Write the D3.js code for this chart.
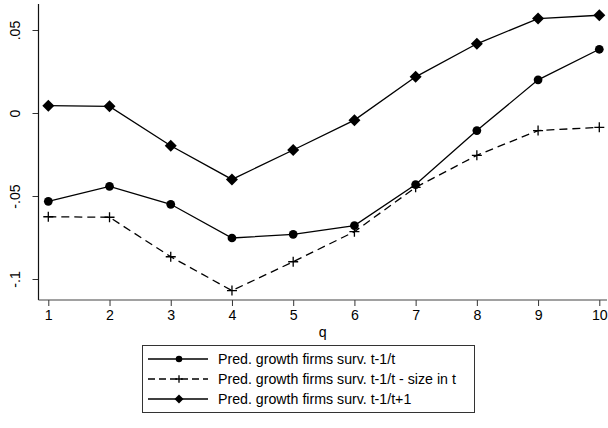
<!DOCTYPE html>
<html>
<head>
<meta charset="utf-8">
<script src="https://cdn.jsdelivr.net/npm/d3@7"></script>
<style>
  html, body { margin: 0; padding: 0; background: #fff; }
  svg { display: block; font-family: "Liberation Sans", Arial, Helvetica, sans-serif; }
</style>
</head>
<body>
<svg id="chart" width="608" height="428"></svg>
<script>
// Quantile groups on the x axis
const quantiles = [1, 2, 3, 4, 5, 6, 7, 8, 9, 10];

// Predicted growth by quantile
const survT = [-0.0532, -0.0442, -0.0550, -0.0753, -0.0731, -0.0678, -0.0431, -0.0106, 0.0200, 0.0384];
const survTSize = [-0.0625, -0.0628, -0.0866, -0.1070, -0.0896, -0.0715, -0.0448, -0.0255, -0.0106, -0.0086];
const survT1 = [0.0044, 0.0040, -0.0197, -0.0400, -0.0223, -0.0043, 0.0218, 0.0417, 0.0569, 0.0589];

// Tick values and labels
const yTicks = [-0.1, -0.05, 0, 0.05];
const yTickLabels = ["-.1", "-.05", "0", ".05"];
const xTicks = quantiles;

const seriesNames = [
  "Pred. growth firms surv. t-1/t",
  "Pred. growth firms surv. t-1/t - size in t",
  "Pred. growth firms surv. t-1/t+1"
];

const svg = d3.select("#chart");

const x = d3.scaleLinear().domain([1, 10]).range([48.3, 599.3]);
const y = d3.scaleLinear().domain([-0.1, 0.05]).range([279, 30]);

const plotTop = 4, plotBottom = 300, plotLeft = 38.5, plotRight = 607;
const fontSize = 14.2;

// Y axis
const yAxis = d3.axisLeft(y)
  .tickValues(yTicks)
  .tickFormat((d, i) => yTickLabels[i])
  .tickSize(6)
  .tickPadding(4);
const gy = svg.append("g").attr("transform", `translate(${plotLeft},0)`).call(yAxis);
gy.select(".domain").remove();
gy.selectAll(".tick line").attr("stroke", "#333");
gy.selectAll(".tick text")
  .attr("font-size", fontSize)
  .attr("fill", "#000")
  .attr("text-anchor", "middle")
  .attr("transform", `translate(-23,0) rotate(-90)`)
  .attr("x", 0)
  .attr("dy", "0.35em");
svg.append("line")
  .attr("x1", plotLeft).attr("x2", plotLeft)
  .attr("y1", plotTop).attr("y2", plotBottom)
  .attr("stroke", "#111").attr("stroke-width", 1.2);

// X axis
const xAxis = d3.axisBottom(x)
  .tickValues(xTicks)
  .tickFormat(d3.format("d"))
  .tickSize(6)
  .tickPadding(4);
const gx = svg.append("g").attr("transform", `translate(0,${plotBottom})`).call(xAxis);
gx.select(".domain").remove();
gx.selectAll(".tick line").attr("stroke", "#333");
gx.selectAll(".tick text").attr("font-size", fontSize).attr("fill", "#000");
svg.append("line")
  .attr("x1", plotLeft).attr("x2", plotRight)
  .attr("y1", plotBottom).attr("y2", plotBottom)
  .attr("stroke", "#444").attr("stroke-width", 1.2);

// X axis title
svg.append("text")
  .attr("x", (x(1) + x(10)) / 2 - 1)
  .attr("y", 337)
  .attr("text-anchor", "middle")
  .attr("font-size", fontSize)
  .text("q");

const line = d3.line().x((d, i) => x(quantiles[i])).y(d => y(d));

function drawMarker(g, kind, cx, cy, scale) {
  const k = scale || 1;
  if (kind === "circle") {
    g.append("path").attr("d", d3.symbol().type(d3.symbolCircle).size(60 * k * k)())
      .attr("transform", `translate(${cx},${cy})`).attr("fill", "#000");
  } else if (kind === "diamond") {
    g.append("path").attr("d", d3.symbol().type(d3.symbolSquare).size(72 * k * k)())
      .attr("transform", `translate(${cx},${cy}) rotate(45)`).attr("fill", "#000");
  } else {
    const s = 5 * k;
    g.append("path")
      .attr("d", `M${cx - s},${cy}H${cx + s}M${cx},${cy - s}V${cy + s}`)
      .attr("stroke", "#000").attr("stroke-width", 1.3).attr("fill", "none");
  }
}

const series = [
  { values: survT, marker: "circle", dash: null },
  { values: survTSize, marker: "plus", dash: "8,5" },
  { values: survT1, marker: "diamond", dash: null }
];

const plot = svg.append("g");
series.forEach(s => {
  plot.append("path")
    .datum(s.values)
    .attr("d", line)
    .attr("fill", "none")
    .attr("stroke", "#000")
    .attr("stroke-width", 1.3)
    .attr("stroke-dasharray", s.dash);
  s.values.forEach((v, i) => drawMarker(plot, s.marker, x(quantiles[i]), y(v)));
});

// Legend
const lg = svg.append("g");
const boxX = 142, boxY = 345, boxW = 332, boxH = 67;
lg.append("rect")
  .attr("x", boxX + 0.5).attr("y", boxY + 0.5)
  .attr("width", boxW).attr("height", boxH)
  .attr("fill", "#fff").attr("stroke", "#333").attr("stroke-width", 1);
series.forEach((s, i) => {
  const ry = boxY + 14 + i * 20;
  lg.append("line")
    .attr("x1", 148).attr("x2", 208)
    .attr("y1", ry).attr("y2", ry)
    .attr("stroke", "#000").attr("stroke-width", 1.3)
    .attr("stroke-dasharray", s.dash ? "7,4" : null);
  drawMarker(lg, s.marker, 179, ry, 0.75);
  lg.append("text")
    .attr("x", 218).attr("y", ry)
    .attr("dy", "0.35em")
    .attr("font-size", fontSize)
    .text(seriesNames[i]);
});
</script>
</body>
</html>
